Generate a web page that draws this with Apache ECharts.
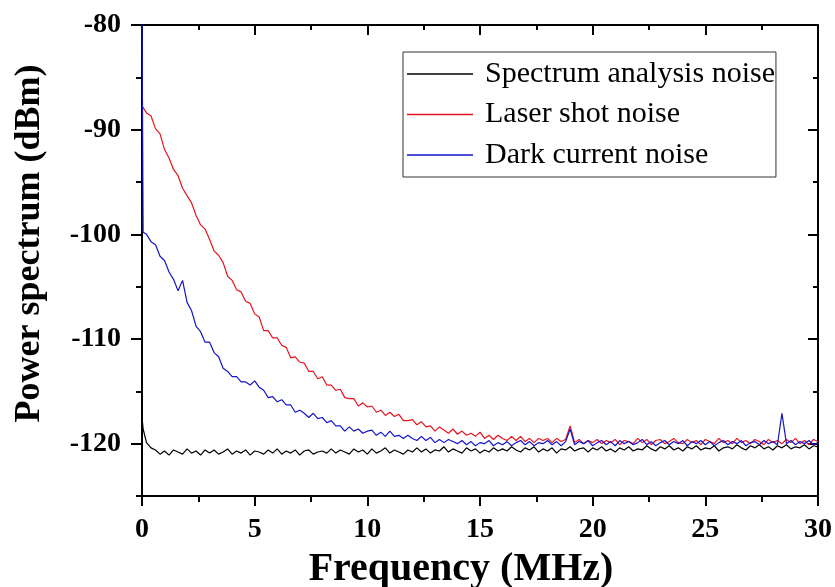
<!DOCTYPE html>
<html>
<head>
<meta charset="utf-8">
<script src="https://cdn.jsdelivr.net/npm/echarts@6/dist/echarts.min.js"></script>
<style>
  html, body { margin: 0; padding: 0; background: #fff; }
  #chart { width: 835px; height: 587px; }
</style>
</head>
<body>
<div id="chart"></div>
<script>
// Noise power spectra measured from 0 to 30 MHz.
const SERIES_NAMES = ['Spectrum analysis noise', 'Laser shot noise', 'Dark current noise'];
const SERIES_COLORS = ['#000000', '#e8141b', '#1515c8'];

// Sample frequencies (MHz): the two leading samples near DC, then a 0.2 MHz grid.
const FREQ_HEAD = [0, 0.05];
const FREQ_STEP = 0.2;
const FREQ_COUNT = 150;

// Spectrum analyser floor (dBm)
const analyzerNoise = [
  -117.4, -118.6,
  -119.9, -120.4, -120.6, -121.0, -120.7, -121.1, -120.6, -120.8, -121.0, -120.5,
  -120.9, -120.7, -121.1, -120.6, -120.9, -120.6, -121.0, -120.8, -120.5, -121.0,
  -120.7, -120.9, -120.6, -121.1, -120.7, -120.8, -121.0, -120.6, -120.9, -120.5,
  -121.0, -120.7, -120.9, -120.6, -121.1, -120.7, -120.6, -121.0, -120.8, -120.7,
  -120.9, -120.5, -120.9, -120.6, -120.8, -121.0, -120.5, -120.8, -120.6, -121.0,
  -120.5, -120.9, -120.7, -120.4, -120.9, -120.6, -120.8, -121.0, -120.6, -120.8,
  -120.4, -120.8, -120.5, -120.9, -120.6, -120.7, -120.3, -120.8, -120.5, -120.7,
  -120.9, -120.4, -120.7, -120.5, -120.9, -120.6, -120.8, -120.4, -120.7, -120.5,
  -120.7, -120.3, -120.6, -120.8, -120.4, -120.6, -120.3, -120.8, -120.5, -120.7,
  -120.4, -120.9, -120.5, -120.6, -120.3, -120.7, -120.5, -120.4, -120.8, -120.4,
  -120.6, -120.3, -120.7, -120.5, -120.8, -120.4, -120.6, -120.3, -120.7, -120.5,
  -120.6, -120.2, -120.5, -120.7, -120.3, -120.5, -120.2, -120.6, -120.4, -120.7,
  -120.3, -120.5, -120.2, -120.6, -120.4, -120.5, -120.2, -120.7, -120.4, -120.3,
  -120.5, -120.1, -120.4, -120.6, -120.2, -120.4, -120.1, -120.5, -120.3, -120.6,
  -120.2, -120.4, -120.1, -120.5, -120.3, -120.4, -120.1, -120.5, -120.2, -120.3
];

// Laser shot noise (dBm)
const shotNoise = [
  -87.7, -87.9,
  -88.4, -88.7, -89.9, -90.4, -91.9, -92.7, -93.8, -94.4, -95.6, -96.3,
  -97.0, -98.2, -99.1, -99.5, -100.5, -101.6, -102.0, -102.7, -104.0, -104.4,
  -105.3, -105.5, -106.4, -106.6, -107.6, -107.9, -109.2, -109.2, -109.9, -109.9,
  -110.6, -110.8, -111.8, -111.7, -112.2, -112.3, -113.1, -113.1, -113.8, -113.6,
  -114.4, -114.4, -114.9, -114.8, -115.6, -115.7, -115.7, -116.4, -116.1, -116.5,
  -116.4, -117.0, -116.8, -117.3, -117.0, -117.4, -117.2, -117.8, -117.8, -117.7,
  -118.2, -117.9, -118.4, -118.3, -118.8, -118.4, -118.7, -119.0, -118.6, -119.1,
  -118.8, -119.2, -119.0, -119.3, -118.9, -119.5, -119.2, -119.6, -119.2, -119.5,
  -119.7, -119.3, -119.7, -119.3, -119.8, -119.5, -119.9, -119.5, -119.7, -119.5,
  -119.9, -119.5, -119.8, -119.6, -118.3, -119.9, -119.6, -120.0, -119.7, -119.9,
  -119.6, -120.0, -119.7, -119.9, -119.6, -120.1, -119.7, -119.8, -120.0, -119.5,
  -119.9, -119.6, -120.1, -119.7, -119.6, -120.0, -119.8, -119.5, -119.9, -120.0,
  -119.6, -119.9, -119.7, -120.1, -119.6, -119.8, -120.0, -119.5, -119.9, -119.7,
  -120.0, -119.5, -119.9, -119.7, -120.0, -119.6, -119.8, -120.1, -119.6, -119.9,
  -119.7, -120.0, -119.6, -119.9, -119.5, -120.0, -119.7, -120.1, -119.6, -119.8
];

// Photodetector dark current noise (dBm)
const darkNoise = [
  -79.0, -99.8,
  -100.0, -100.7, -101.0, -102.1, -102.5, -103.6, -104.3, -105.4, -104.4, -106.5,
  -107.3, -108.8, -109.3, -110.3, -110.3, -111.3, -111.7, -112.8, -113.1, -113.6,
  -113.6, -114.1, -114.1, -114.4, -114.0, -114.6, -114.9, -115.6, -115.5, -116.0,
  -115.8, -116.3, -116.3, -117.0, -116.8, -117.1, -117.5, -117.1, -117.6, -117.5,
  -118.0, -117.8, -118.3, -118.3, -118.8, -118.4, -118.8, -118.6, -119.0, -118.8,
  -118.7, -119.2, -118.9, -119.3, -118.8, -119.3, -119.2, -119.5, -119.2, -119.5,
  -119.7, -119.3, -119.7, -119.4, -119.9, -119.6, -119.9, -119.6, -119.8, -120.0,
  -119.7, -120.1, -119.8, -120.2, -119.9, -120.0, -119.7, -120.2, -119.9, -120.1,
  -119.8, -120.2, -119.9, -119.7, -120.1, -119.8, -120.2, -119.9, -120.0, -119.7,
  -120.1, -119.8, -120.2, -119.8, -118.6, -120.1, -119.8, -120.0, -119.7, -120.2,
  -119.9, -119.7, -120.1, -119.8, -120.2, -119.7, -120.0, -119.8, -120.1, -119.9,
  -119.6, -120.1, -119.8, -120.2, -119.9, -119.7, -120.1, -119.8, -120.0, -119.7,
  -120.2, -119.8, -120.0, -119.7, -120.1, -119.8, -120.2, -119.9, -119.7, -120.1,
  -119.8, -120.0, -119.7, -120.2, -119.9, -119.8, -120.1, -119.7, -120.0, -119.8,
  -120.1, -117.1, -120.0, -119.7, -120.1, -119.8, -120.0, -119.7, -120.1, -119.9
];

// Axis ticks
const X_TICKS = [0, 5, 10, 15, 20, 25, 30];
const Y_MAJOR = [-120, -110, -100, -90, -80];
const Y_MINOR = [-125, -115, -105, -95, -85];
const Y_MIN = -125, Y_MAX = -80;

const FONT = '"Times New Roman", "Liberation Serif", serif';

const freq = FREQ_HEAD.slice();
for (let k = 1; k <= FREQ_COUNT; k++) freq.push(+(k * FREQ_STEP).toFixed(2));

function pairs(values) {
  return values.map((v, i) => [freq[i], v]);
}

const seriesValues = [analyzerNoise, shotNoise, darkNoise];

const axisLineStyle = { color: '#000', width: 2 };
const tickLine = { color: '#000', width: 2 };

function yAxisDef(position, values, tickLen, inside, showLine, showLabels) {
  return {
    type: 'value', position: position, min: Y_MIN, max: Y_MAX, interval: 5,
    axisLine: { show: showLine, onZero: false, lineStyle: axisLineStyle },
    axisTick: { show: true, inside: inside, length: tickLen, customValues: values, lineStyle: tickLine },
    axisLabel: showLabels ? {
      show: true, customValues: values, margin: 21,
      fontFamily: FONT, fontWeight: 'bold', fontSize: 28, color: '#000'
    } : { show: false },
    splitLine: { show: false }
  };
}

const yMain = yAxisDef('left', Y_MAJOR, 11, false, true, true);
yMain.name = 'Power spectrum (dBm)';
yMain.nameLocation = 'middle';
yMain.nameRotate = 90;
yMain.nameGap = 94;
yMain.nameTextStyle = { fontFamily: FONT, fontWeight: 'bold', fontSize: 36, color: '#000', padding: [0, 0, 0, 34] };

const chart = echarts.init(document.getElementById('chart'), null, { renderer: 'canvas' });
chart.setOption({
  animation: false,
  backgroundColor: '#ffffff',
  grid: { left: 142, right: 17, top: 25, bottom: 91, containLabel: false, outerBoundsMode: 'none' },
  legend: {
    orient: 'vertical', left: 403, top: 52,
    icon: 'rect',
    itemWidth: 66, itemHeight: 1.5, itemGap: 10.5,
    padding: [7, 1, 7, 4],
    borderColor: '#333', borderWidth: 1,
    textStyle: { fontFamily: FONT, fontSize: 30, color: '#000', padding: [0, 0, 0, 7] },
    data: SERIES_NAMES
  },
  xAxis: [
    {
      type: 'value', position: 'bottom', min: X_TICKS[0], max: X_TICKS[X_TICKS.length - 1], interval: 5,
      axisLine: { onZero: false, lineStyle: axisLineStyle },
      axisTick: { show: true, length: 10, lineStyle: tickLine },
      minorTick: { show: true, splitNumber: 2, length: 6, lineStyle: tickLine },
      splitLine: { show: false },
      axisLabel: { margin: 20, fontFamily: FONT, fontWeight: 'bold', fontSize: 28, color: '#000' },
      name: 'Frequency (MHz)', nameLocation: 'middle', nameGap: 54,
      nameTextStyle: { fontFamily: FONT, fontWeight: 'bold', fontSize: 40, color: '#000', padding: [0, 38, 0, 0] }
    },
    {
      type: 'value', position: 'top', min: X_TICKS[0], max: X_TICKS[X_TICKS.length - 1], interval: 5,
      axisLine: { onZero: false, lineStyle: axisLineStyle },
      axisTick: { show: true, inside: true, length: 10, lineStyle: tickLine },
      minorTick: { show: true, splitNumber: 2, length: 5, lineStyle: tickLine },
      splitLine: { show: false },
      axisLabel: { show: false }
    }
  ],
  yAxis: [
    yMain,
    yAxisDef('left', Y_MINOR, 6, false, false, false),
    yAxisDef('right', Y_MAJOR, 10, true, true, false),
    yAxisDef('right', Y_MINOR, 5, true, false, false)
  ],
  series: SERIES_NAMES.map((name, i) => ({
    name: name,
    type: 'line',
    xAxisIndex: 0,
    yAxisIndex: 0,
    data: pairs(seriesValues[i]),
    symbol: 'none',
    showSymbol: false,
    clip: true,
    z: 2 + i,
    lineStyle: { color: SERIES_COLORS[i], width: 1.2 },
    itemStyle: { color: SERIES_COLORS[i] }
  }))
});
</script>
</body>
</html>
